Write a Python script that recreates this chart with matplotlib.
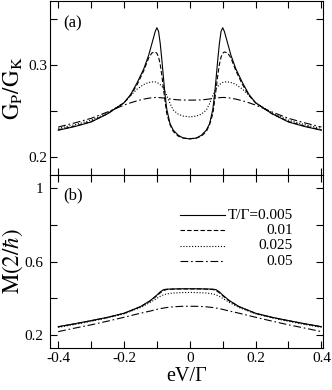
import matplotlib
matplotlib.use("Agg")
import matplotlib.pyplot as plt
from matplotlib.ticker import MultipleLocator, FixedLocator, FuncFormatter

plt.rcParams["font.family"] = ["Liberation Serif", "DejaVu Serif"]
plt.rcParams["mathtext.fontset"] = "stix"
plt.rcParams["axes.unicode_minus"] = False

# ---- panel (a): G_P / G_K ----
xa = [-0.4, -0.35, -0.3, -0.25, -0.2, -0.18, -0.16, -0.14, -0.125, -0.115, -0.105,
      -0.1, -0.095, -0.09, -0.085, -0.08, -0.075, -0.07, -0.06, -0.05, -0.035, -0.02,
      0.0,
      0.02, 0.035, 0.05, 0.06, 0.07, 0.075, 0.08, 0.085, 0.09, 0.095, 0.1,
      0.105, 0.115, 0.125, 0.14, 0.16, 0.18, 0.2, 0.25, 0.3, 0.35, 0.4]
ga_005 = [0.229, 0.233, 0.238, 0.247, 0.259, 0.268, 0.281, 0.296, 0.311, 0.324, 0.337,
          0.341, 0.337, 0.324, 0.306, 0.286, 0.267, 0.252, 0.236, 0.229, 0.2235, 0.2205,
          0.2195,
          0.2205, 0.2235, 0.229, 0.236, 0.252, 0.267, 0.286, 0.306, 0.324, 0.337, 0.341,
          0.337, 0.324, 0.311, 0.296, 0.281, 0.268, 0.259, 0.247, 0.238, 0.233, 0.229]
ga_01 = [0.2295, 0.2335, 0.2385, 0.247, 0.259, 0.267, 0.279, 0.294, 0.308, 0.3135, 0.3145,
         0.313, 0.309, 0.301, 0.289, 0.274, 0.260, 0.247, 0.235, 0.2275, 0.2225, 0.2205,
         0.2198,
         0.2205, 0.2225, 0.2275, 0.235, 0.247, 0.260, 0.274, 0.289, 0.301, 0.309, 0.313,
         0.3145, 0.3135, 0.308, 0.294, 0.279, 0.267, 0.259, 0.247, 0.2385, 0.2335, 0.2295]
ga_025 = [0.231, 0.235, 0.240, 0.248, 0.259, 0.267, 0.274, 0.279, 0.2812, 0.2818, 0.2818,
          0.2812, 0.2802, 0.2788, 0.277, 0.2748, 0.271, 0.267, 0.258, 0.251, 0.2465, 0.2445,
          0.2435,
          0.2445, 0.2465, 0.251, 0.258, 0.267, 0.271, 0.2748, 0.277, 0.2788, 0.2802, 0.2812,
          0.2818, 0.2818, 0.2812, 0.279, 0.274, 0.267, 0.259, 0.248, 0.240, 0.235, 0.231]
ga_05 = [0.2325, 0.237, 0.242, 0.249, 0.2565, 0.259, 0.2612, 0.263, 0.264, 0.2645, 0.2648,
         0.2648, 0.2647, 0.2646, 0.2644, 0.2642, 0.264, 0.2637, 0.2632, 0.2627, 0.2622, 0.262,
         0.2619,
         0.262, 0.2622, 0.2627, 0.2632, 0.2637, 0.264, 0.2642, 0.2644, 0.2646, 0.2647, 0.2648,
         0.2648, 0.2645, 0.264, 0.263, 0.2612, 0.259, 0.2565, 0.249, 0.242, 0.237, 0.2325]

# ---- panel (b): M(2/hbar) ----
xb = [-0.4, -0.35, -0.3, -0.25, -0.2, -0.15, -0.12, -0.1, -0.09, -0.08, -0.07, -0.05,
      -0.025, 0.0, 0.025, 0.05, 0.07, 0.08, 0.09, 0.1, 0.12, 0.15, 0.2, 0.25, 0.3, 0.35, 0.4]
mb_005 = [0.246, 0.262, 0.279, 0.297, 0.319, 0.355, 0.388, 0.418, 0.435, 0.447, 0.450, 0.451,
          0.452, 0.452, 0.452, 0.451, 0.450, 0.447, 0.435, 0.418, 0.388, 0.355, 0.319, 0.297,
          0.279, 0.262, 0.246]
mb_01 = [0.245, 0.261, 0.278, 0.296, 0.318, 0.354, 0.386, 0.414, 0.430, 0.442, 0.448, 0.450,
         0.451, 0.451, 0.451, 0.450, 0.448, 0.442, 0.430, 0.414, 0.386, 0.354, 0.318, 0.296,
         0.278, 0.261, 0.245]
mb_025 = [0.242, 0.258, 0.275, 0.294, 0.316, 0.350, 0.378, 0.400, 0.411, 0.419, 0.424, 0.429,
          0.431, 0.432, 0.431, 0.429, 0.424, 0.419, 0.411, 0.400, 0.378, 0.350, 0.316, 0.294,
          0.275, 0.258, 0.242]
mb_05 = [0.219, 0.238, 0.256, 0.276, 0.297, 0.319, 0.331, 0.340, 0.344, 0.347, 0.350, 0.354,
         0.3565, 0.357, 0.3565, 0.354, 0.350, 0.347, 0.344, 0.340, 0.331, 0.319, 0.297, 0.276,
         0.256, 0.238, 0.219]

temps = ["T/\u0393=0.005", "0.01", "0.025", "0.05"]
styles = ["-", (0, (4, 2)), (0, (1, 1.6)), (0, (7, 2.5, 1.5, 2.5))]

fig = plt.figure(figsize=(3.32, 3.90), dpi=100)
ax_a = fig.add_axes([0.1506, 0.551, 0.8224, 0.446])
ax_b = fig.add_axes([0.1506, 0.1077, 0.8224, 0.4433])

for ys, ls in zip([ga_005, ga_01, ga_025, ga_05], styles):
    ax_a.plot(xa, ys, color="black", lw=0.8, linestyle=ls)
for ys, ls in zip([mb_005, mb_01, mb_025, mb_05], styles):
    ax_b.plot(xb, ys, color="black", lw=0.8, linestyle=ls)

for ax in (ax_a, ax_b):
    ax.set_xlim(-0.425, 0.405)
    ax.xaxis.set_major_locator(MultipleLocator(0.2))
    ax.xaxis.set_minor_locator(MultipleLocator(0.1))
    ax.tick_params(which="both", direction="in", top=True, right=True,
                   length=5, width=0.8, labelsize=11, pad=3)
    for s in ax.spines.values():
        s.set_linewidth(0.8)

fmt = FuncFormatter(lambda v, p: f"{v:g}")

ax_a.set_ylim(0.18, 0.37)
ax_a.yaxis.set_major_locator(MultipleLocator(0.1))
ax_a.yaxis.set_minor_locator(MultipleLocator(0.05))
ax_a.yaxis.set_major_formatter(fmt)
ax_a.tick_params(labelbottom=False)
ax_a.tick_params(axis="y", pad=2)
ax_a.set_ylabel(r"$\mathrm{G_P/G_K}$", fontsize=16.5)
ax_a.yaxis.set_label_coords(-0.092, 0.5)
ax_a.text(0.048, 0.85, "(a)", transform=ax_a.transAxes, fontsize=12)

ax_b.set_ylim(0.13, 1.07)
ax_b.yaxis.set_major_locator(FixedLocator([0.2, 0.6, 1.0]))
ax_b.yaxis.set_minor_locator(FixedLocator([0.4, 0.8]))
ax_b.yaxis.set_major_formatter(fmt)
ax_b.xaxis.set_major_formatter(fmt)
ax_b.tick_params(axis="y", pad=5)
ax_b.set_ylabel(r"$\mathrm{M(2/}\hbar\mathrm{)}$", fontsize=16.5)
ax_b.yaxis.set_label_coords(-0.092, 0.5)
ax_b.set_xlabel("eV/\u0393", fontsize=14.5, labelpad=1)
ax_b.text(0.048, 0.86, "(b)", transform=ax_b.transAxes, fontsize=12)

# legend drawn by hand so the numbers are right aligned
for i, (lab, ls) in enumerate(zip(temps, styles)):
    yy = 0.769 - i * 0.089
    ax_b.plot([0.476, 0.641], [yy, yy], transform=ax_b.transAxes,
              color="black", lw=0.8, linestyle=ls)
    ax_b.text(0.89, yy, lab, transform=ax_b.transAxes, ha="right", va="center",
              fontsize=11)

fig.savefig("out.png", dpi=100)
